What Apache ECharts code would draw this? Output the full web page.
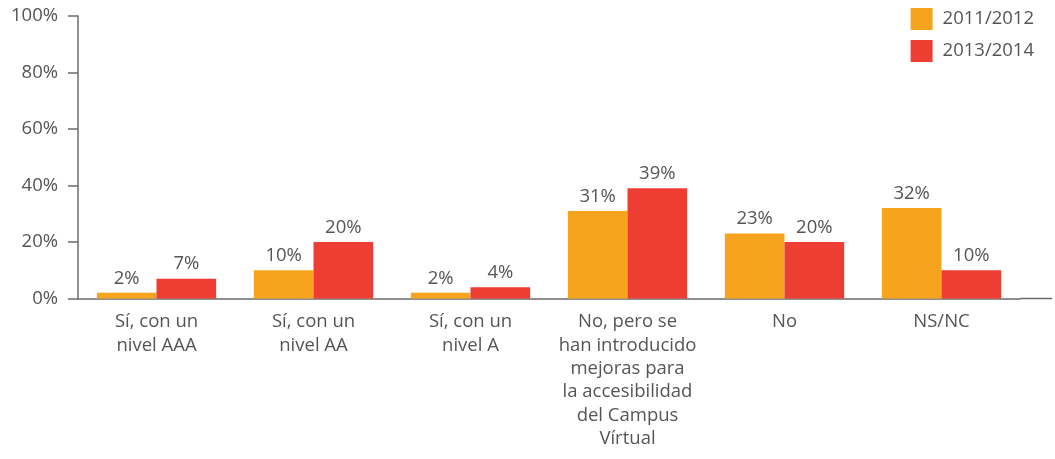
<!DOCTYPE html>
<html>
<head>
<meta charset="utf-8">
<script src="https://cdn.jsdelivr.net/npm/echarts@6/dist/echarts.min.js"></script>
<style>
  html, body { margin: 0; padding: 0; background: #fff; }
  #chart { width: 1055px; height: 459px; }
</style>
</head>
<body>
<div id="chart"></div>
<script>
// Respuestas por categoría (porcentaje)
var categories = [
  'Sí, con un\nnivel AAA',
  'Sí, con un\nnivel AA',
  'Sí, con un\nnivel A',
  'No, pero se\nhan introducido\nmejoras para\nla accesibilidad\ndel Campus\nVírtual',
  'No',
  'NS/NC'
];
var seriesNames = ['2011/2012', '2013/2014'];
var values2011 = [2, 10, 2, 31, 23, 32];
var values2013 = [7, 20, 4, 39, 20, 10];
var yTicks = [0, 20, 40, 60, 80, 100];

var FONT = '"Open Sans", sans-serif';
var FS = 18.5;
var TEXT = '#555555';
var AXIS = '#6b6b6b';

var chart = echarts.init(document.getElementById('chart'), null, { renderer: 'canvas' });

function barSeries(name, data, color) {
  return {
    name: name,
    type: 'bar',
    data: data,
    barGap: '0%',
    barCategoryGap: '24%',
    itemStyle: { color: color },
    label: {
      show: true,
      position: 'top',
      distance: 5,
      formatter: '{c}%',
      color: TEXT,
      fontFamily: FONT,
      fontSize: FS
    }
  };
}

var gridLeft = 78, gridRight = 1020, axisY = 298.5;

chart.setOption({
  animation: false,
  grid: { left: gridLeft, right: 1055 - gridRight, top: 16, bottom: 459 - axisY },
  legend: {
    orient: 'vertical',
    right: 16,
    top: 3,
    itemWidth: 22,
    itemHeight: 22,
    itemGap: 10,
    icon: 'rect',
    textStyle: { color: TEXT, fontFamily: FONT, fontSize: FS, padding: [0, 0, 0, 5] },
    data: seriesNames
  },
  xAxis: {
    type: 'category',
    data: categories,
    axisLine: { lineStyle: { color: AXIS, width: 1.5 } },
    axisTick: { show: false },
    axisLabel: {
      interval: 0,
      margin: 12,
      color: TEXT,
      fontFamily: FONT,
      fontSize: FS,
      lineHeight: 23.3
    }
  },
  yAxis: {
    type: 'value',
    min: yTicks[0],
    max: yTicks[yTicks.length - 1],
    interval: yTicks[1] - yTicks[0],
    splitLine: { show: false },
    axisLine: { show: true, lineStyle: { color: AXIS, width: 1.5 } },
    axisTick: { show: true, length: 10, lineStyle: { color: AXIS, width: 1.5 } },
    axisLabel: {
      margin: 20,
      formatter: '{value}%',
      color: TEXT,
      fontFamily: FONT,
      fontSize: FS
    }
  },
  series: [
    barSeries(seriesNames[0], values2011, '#F6A41E'),
    barSeries(seriesNames[1], values2013, '#EE3D33')
  ]
});

// baseline continues past the last category to the right edge
chart.setOption({
  graphic: [{
    type: 'line',
    shape: { x1: gridRight, y1: axisY, x2: 1052, y2: axisY },
    style: { stroke: AXIS, lineWidth: 1.5 },
    silent: true
  }]
});
</script>
</body>
</html>
